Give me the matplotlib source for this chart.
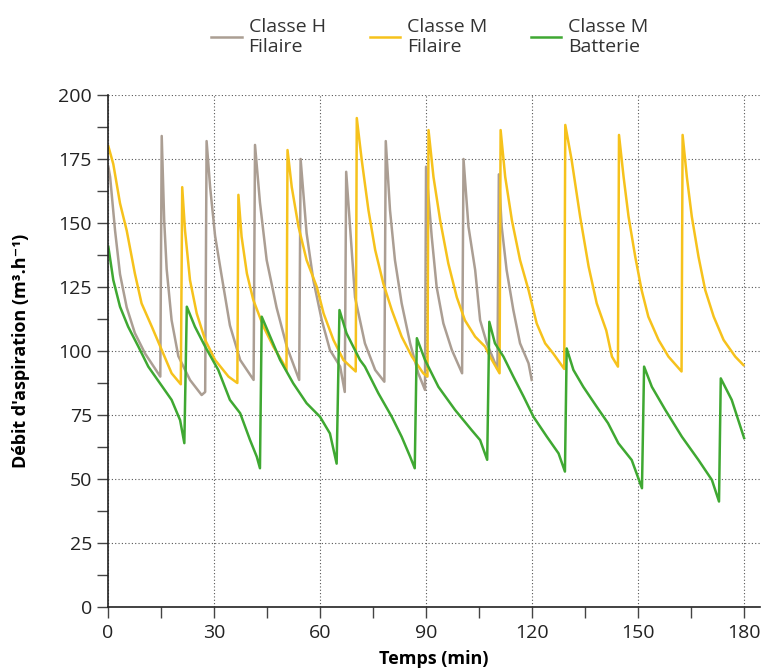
import matplotlib
matplotlib.use("Agg")
import matplotlib.pyplot as plt
from matplotlib.ticker import MultipleLocator

plt.rcParams['font.family'] = ['Open Sans', 'DejaVu Sans']

# Classe H Filaire (grey)
h_fil_t = [0.1, 0.6, 2, 3.4, 5.3, 7.6, 10.5, 14.8,
           15.2, 15.9, 16.6, 18, 19.9, 23.2, 26.5, 27.5,
           27.9, 28.9, 30.3, 32.2, 34.5, 37.4, 41.2,
           41.6, 43, 44.9, 47.7, 50.6, 53.4, 54.1,
           54.5, 56.2, 58.1, 60.5, 62.8, 65.7, 67.0,
           67.4, 69.9, 72.7, 75.6, 78.2,
           78.6, 79.8, 81.2, 83.1, 85.5, 87.8, 89.7,
           90.0, 91.6, 93, 94.9, 97.3, 100.2,
           100.6, 102, 103.9, 105.3, 107.2, 110.2,
           110.6, 111.4, 112.8, 114.7, 116.6, 119, 119.9]
h_fil_v = [172, 168, 147, 130, 117, 107, 99, 90,
           184, 151, 132, 112, 98, 88.7, 82.8, 84,
           182, 164, 145, 129, 110, 96.5, 88.7,
           180.5, 158, 135.5, 117, 101.7, 91.3, 88.7,
           175, 146, 127.7, 112, 100.4, 93.9, 84,
           170, 121, 103, 92.6, 88,
           182, 155, 135.5, 118.6, 103, 91.3, 84.8,
           172, 144.7, 125, 110.8, 100.4, 91.3,
           175, 148.6, 131.6, 112, 103, 93,
           169, 148.6, 131.6, 116, 103, 95.2, 88.7]

# Classe M Filaire (yellow)
m_fil_t = [0.1, 1.5, 3.4, 5.3, 7.6, 9.5, 12.4, 15.2, 18, 20.6,
           21.0, 21.8, 23.2, 25.1, 27.5, 30.3, 34.1, 36.6,
           36.9, 37.8, 39.3, 41.1, 44, 46.8, 49.6, 50.5,
           50.8, 52, 53.9, 56.2, 59.1, 61, 63.8, 66.6, 70.1,
           70.4, 71.8, 73.7, 75.6, 77.9, 80.3, 83.1, 86, 89.2, 90.4,
           90.7, 92.1, 94, 96.3, 98.7, 101, 103.9, 106.7, 108.1, 110.8,
           111.1, 112.4, 114.3, 116.6, 119, 121.3, 123.7, 126, 129.1,
           129.4, 131.2, 133.6, 136, 138.3, 141, 142.6, 144.3,
           144.6, 145.9, 147.3, 149.2, 151, 152.9, 155.8, 158.6, 162.3,
           162.6, 163.8, 165.2, 167.1, 169, 171.4, 174.2, 177.5, 179.8]
m_fil_v = [180, 173, 157.7, 147, 130.3, 118.6, 109.5, 100.4, 91.3, 87,
           164, 147, 127.7, 114.7, 104.3, 96.5, 90, 87.5,
           161, 144.7, 130.3, 120, 109.5, 101.7, 95.2, 92.5,
           178.5, 164, 148.6, 135.5, 125, 114.7, 104.3, 96.5, 92,
           191, 174.6, 155, 139.5, 126.4, 116, 105.6, 97.8, 91.3, 90,
           186.3, 168, 151, 134.2, 121, 112, 105.6, 101.7, 97.8, 91.3,
           186.3, 168, 151, 135.5, 123.8, 110.8, 103, 99, 93,
           188.3, 174.6, 152.5, 133, 118.6, 108, 97.8, 93.9,
           184.4, 168, 152.5, 136.8, 123.8, 113.4, 104.3, 97.8, 92,
           184.4, 168, 152.5, 136.8, 123.8, 113.4, 104.3, 97.8, 94.5]

# Classe M Batterie (green)
m_bat_t = [0.1, 1.5, 3.4, 5.7, 8.6, 11.4, 14.7, 18, 20.4, 21.6,
           22.3, 24.6, 27.5, 31.2, 34.5, 37.4, 40.2, 42.1, 43.0,
           43.5, 45.9, 48.7, 52.4, 56.2, 60, 62.8, 64.7,
           65.5, 67.5, 71.3, 72.7, 76.5, 80.3, 83.1, 85.5, 86.8,
           87.4, 89.7, 93.5, 98.2, 102.9, 105.3, 107.3,
           107.9, 109.5, 111.9, 114.7, 117.6, 120.4, 124.2, 127.5, 129.3,
           129.8, 131.7, 134.5, 138.3, 141.5, 144.4, 148.2, 151.1,
           151.7, 153.9, 157.7, 162.4, 167.1, 170.9, 172.9,
           173.4, 176.5, 180]
m_bat_v = [140.7, 127.7, 117.3, 109.5, 101.7, 93.9, 87.4, 80.9, 73, 64,
           117.3, 109.5, 101.7, 92.6, 80.9, 75.7, 65.2, 58.7, 54.2,
           113.4, 105.6, 96.5, 87.4, 79.6, 74.3, 67.8, 56,
           116, 106.9, 96.5, 93.9, 83.5, 74.3, 66.5, 58.7, 54.2,
           105, 96.5, 86, 77, 69.1, 65.2, 57.5,
           111.4, 103, 97.8, 90, 82.2, 74.3, 66.5, 60, 52.9,
           101, 92.6, 86, 78.2, 71.8, 64, 57.4, 46.4,
           93.9, 86, 77, 66.5, 57.4, 49.6, 41.2,
           89.3, 80.9, 66]

fig = plt.figure(figsize=(7.61, 6.70), dpi=100)
ax = fig.add_axes([108 / 761, 63 / 670, 652 / 761, 512 / 670])

ax.plot(h_fil_t, h_fil_v, color='#ab9e93', lw=1.8, label='Classe H\nFilaire')
ax.plot(m_fil_t, m_fil_v, color='#f6c21c', lw=1.8, label='Classe M\nFilaire')
ax.plot(m_bat_t, m_bat_v, color='#3fa832', lw=1.8, label='Classe M\nBatterie')

ax.set_xlim(0, 184.5)
ax.set_ylim(0, 200)
ax.xaxis.set_minor_locator(MultipleLocator(15))
ax.yaxis.set_major_locator(MultipleLocator(25))
ax.yaxis.set_minor_locator(MultipleLocator(12.5))
ax.set_xticks([0, 30, 60, 90, 120, 150, 180])

ax.grid(True, which='major', linestyle=(0, (1, 2)), color='#555555', lw=0.8)
ax.tick_params(which='both', length=8, width=1, color='#444444',
               labelsize=14, labelcolor='#222222')
ax.tick_params(axis='x', pad=4)
for s in ['top', 'right']:
    ax.spines[s].set_visible(False)
for s in ['left', 'bottom']:
    ax.spines[s].set_linewidth(1.2)
    ax.spines[s].set_color('#222222')

ax.set_xlabel('Temps (min)', fontsize=13, fontweight='bold', labelpad=6)
ax.set_ylabel("Débit d'aspiration (m³.h⁻¹)", fontsize=13, fontweight='bold', labelpad=20)

fig.legend(loc='upper center', bbox_to_anchor=(0.565, 1.0), ncol=3, frameon=False,
           fontsize=14, handlelength=1.55, columnspacing=2.27, handletextpad=0.36,
           labelcolor='#333333')

fig.savefig('out.png', dpi=100)
